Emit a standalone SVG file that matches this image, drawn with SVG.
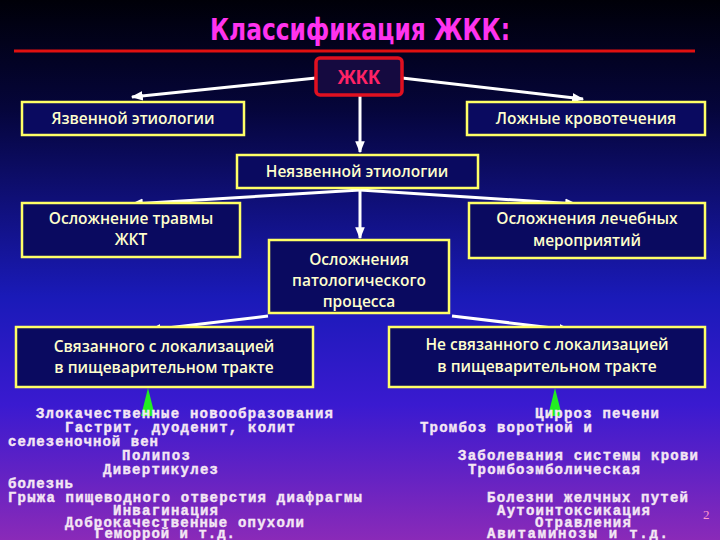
<svg xmlns="http://www.w3.org/2000/svg" width="720" height="540" viewBox="0 0 720 540">
<defs>
<linearGradient id="bg" x1="0" y1="0" x2="0" y2="1">
<stop offset="0" stop-color="#000008"/>
<stop offset="0.2" stop-color="#05053a"/>
<stop offset="0.55" stop-color="#1a1ab8"/>
<stop offset="0.75" stop-color="#3a1ad0"/>
<stop offset="1" stop-color="#8a2ab8"/>
</linearGradient>
<marker id="ah" viewBox="0 0 10 10" refX="9" refY="5" markerWidth="4" markerHeight="4" orient="auto"><path d="M0,1 L10,5 L0,9 z" fill="#ffffff"/></marker>
<style>
.box{fill:#0a0a60;stroke:#ffff66;stroke-width:2.5}
.bt{font-family:"Open Sans","Liberation Sans",sans-serif;font-size:15.5px;font-weight:600;fill:#ffffcc;text-anchor:middle}
.ln{stroke:#ffffff;stroke-width:3;fill:none;marker-end:url(#ah)}
.mono{font-family:"Liberation Mono",monospace;font-size:14px;font-weight:bold;fill:#f4e6f4;stroke:#f4e6f4;stroke-width:0.4}
.tri{fill:#22ee22}
</style>
</defs>
<rect width="720" height="540" fill="url(#bg)"/>
<text x="360" y="40" font-family="'Liberation Sans Narrow','DejaVu Sans Condensed',sans-serif" font-size="30" font-weight="bold" fill="#ff33ee" text-anchor="middle" textLength="300" lengthAdjust="spacingAndGlyphs">Классификация ЖКК:</text>
<line x1="14" y1="51" x2="695" y2="51" stroke="#e01010" stroke-width="3"/>
<g id="connectors">
<line class="ln" x1="316" y1="78" x2="132" y2="97"/>
<line class="ln" x1="402" y1="78" x2="583" y2="99"/>
<line class="ln" x1="360" y1="95" x2="360" y2="152"/>
<line class="ln" x1="360" y1="190" x2="132" y2="204"/>
<line class="ln" x1="360" y1="190" x2="576" y2="204"/>
<line class="ln" x1="360" y1="190" x2="360" y2="238"/>
<line class="ln" x1="268" y1="316" x2="150" y2="330"/>
<line class="ln" x1="452" y1="316" x2="570" y2="330"/>
<polygon class="tri" points="141,416 148,388 155,416"/>
<polygon class="tri" points="548,416 555,388 562,416"/>
</g>
<g id="zhkk"><rect x="316" y="58" width="86" height="37" rx="4" fill="#150a40" stroke="#e01020" stroke-width="3.5"/><text x="359" y="84" font-family="'Liberation Sans',sans-serif" font-size="20" font-weight="bold" fill="#ff2266" text-anchor="middle">ЖКК</text></g>
<g id="n1"><rect class="box" x="22" y="102" width="222" height="33"/><text class="bt" x="133" y="124">Язвенной этиологии</text></g>
<g id="n2"><rect class="box" x="467" y="102" width="238" height="33"/><text class="bt" x="586" y="124">Ложные кровотечения</text></g>
<g id="n3"><rect class="box" x="237" y="155" width="241" height="33"/><text class="bt" x="357" y="177">Неязвенной этиологии</text></g>
<g id="n4"><rect class="box" x="22" y="203" width="218" height="54"/><text class="bt" x="131" y="224">Осложнение травмы</text><text class="bt" x="131" y="245">ЖКТ</text></g>
<g id="n5"><rect class="box" x="469" y="203" width="236" height="55"/><text class="bt" x="587" y="224">Осложнения лечебных</text><text class="bt" x="587" y="246">мероприятий</text></g>
<g id="n6"><rect class="box" x="269" y="240" width="180" height="73"/><text class="bt" x="359" y="265">Осложнения</text><text class="bt" x="359" y="286">патологического</text><text class="bt" x="359" y="307">процесса</text></g>
<g id="n7"><rect class="box" x="16" y="327" width="297" height="60"/><text class="bt" x="164" y="352">Связанного с локализацией</text><text class="bt" x="164" y="373">в пищеварительном тракте</text></g>
<g id="n8"><rect class="box" x="389" y="327" width="316" height="60"/><text class="bt" x="547" y="350">Не связанного с локализацией</text><text class="bt" x="547" y="372">в пищеварительном тракте</text></g>
<g id="lists">
<text class="mono" x="36" y="418" textLength="297">Злокачественные новообразования</text>
<text class="mono" x="65" y="432" textLength="230">Гастрит, дуоденит, колит</text>
<text class="mono" x="8" y="446" textLength="150">селезеночной вен</text>
<text class="mono" x="122" y="460" textLength="68">Полипоз</text>
<text class="mono" x="103" y="474" textLength="115">Дивертикулез</text>
<text class="mono" x="8" y="488" textLength="65">болезнь</text>
<text class="mono" x="8" y="502" textLength="354">Грыжа пищеводного отверстия диафрагмы</text>
<text class="mono" x="113" y="515" textLength="105">Инвагинация</text>
<text class="mono" x="65" y="527" textLength="239">Доброкачественные опухоли</text>
<text class="mono" x="95" y="538" textLength="140">Геморрой и т.д.</text>
<text class="mono" x="535" y="418" textLength="124">Цирроз печени</text>
<text class="mono" x="420" y="432" textLength="172">Тромбоз воротной и</text>
<text class="mono" x="458" y="460" textLength="240">Заболевания системы крови</text>
<text class="mono" x="468" y="474" textLength="172">Тромбоэмболическая</text>
<text class="mono" x="487" y="502" textLength="201">Болезни желчных путей</text>
<text class="mono" x="497" y="515" textLength="153">Аутоинтоксикация</text>
<text class="mono" x="535" y="527" textLength="96">Отравления</text>
<text class="mono" x="487" y="538" textLength="181">Авитаминозы и т.д.</text>
</g>
<text x="703" y="519" font-family="'Liberation Serif',serif" font-size="13" fill="#ff99cc">2</text>
</svg>
